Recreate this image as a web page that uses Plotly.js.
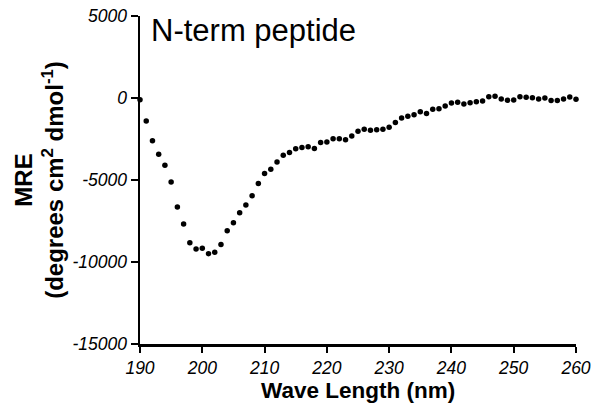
<!DOCTYPE html>
<html>
<head>
<meta charset="utf-8">
<script src="https://cdn.plot.ly/plotly-3.0.1.min.js"></script>
<style>html,body{margin:0;padding:0;background:#fff;}#chart{width:594px;height:406px;}</style>
</head>
<body>
<div id="chart"></div>
<script>
const wavelength = [190,191,192,193,194,195,196,197,198,199,200,201,202,203,204,205,206,207,208,209,210,211,212,213,214,215,216,217,218,219,220,221,222,223,224,225,226,227,228,229,230,231,232,233,234,235,236,237,238,239,240,241,242,243,244,245,246,247,248,249,250,251,252,253,254,255,256,257,258,259,260];
const mre = [-100,-1400,-2600,-3430,-4100,-5120,-6650,-7690,-8830,-9200,-9160,-9490,-9400,-8940,-8100,-7610,-7000,-6530,-5960,-5220,-4610,-4350,-3910,-3490,-3320,-3100,-3020,-2980,-3080,-2710,-2690,-2490,-2490,-2550,-2310,-2020,-1900,-1960,-1940,-1900,-1790,-1490,-1220,-1120,-1020,-840,-940,-690,-650,-490,-310,-260,-370,-290,-230,-180,80,100,-60,-140,-120,80,40,20,-60,0,-160,-160,-60,60,-80];
const xTicks = [190,200,210,220,230,240,250,260];
const yTicks = [-15000,-10000,-5000,0,5000];
const chartTitle = "N-term peptide";
const xTitle = "<b>Wave Length (nm)</b>";
const yTitle = "<b>MRE<br>(degrees cm<sup>2</sup> dmol<sup>-1</sup>)</b>";

const trace = {
  x: wavelength, y: mre, type: 'scatter', mode: 'markers',
  marker: {color: '#000', size: 5.5}, cliponaxis: false, hoverinfo: 'none'
};
const fam = 'Liberation Sans, Arial, sans-serif';
const tickFont = {family: fam, size: 17.5, color: '#000', style: 'italic'};
const layout = {
  width: 594, height: 406,
  margin: {l: 140, r: 18, t: 16, b: 62},
  paper_bgcolor: '#fff', plot_bgcolor: '#fff',
  showlegend: false,
  xaxis: {
    range: [190, 260], tickvals: xTicks, ticktext: xTicks.map(v => '<i>' + v + '</i>'),
    showgrid: false, zeroline: false, showline: true, linecolor: '#000', linewidth: 2.5,
    ticks: 'outside', ticklen: 6, tickwidth: 2, tickcolor: '#000',
    tickfont: tickFont, automargin: false
  },
  yaxis: {
    range: [-15000, 5000], tickvals: yTicks, ticktext: yTicks.map(v => '<i>' + v + '</i>'),
    showgrid: false, zeroline: false, showline: true, linecolor: '#000', linewidth: 2.5,
    ticks: 'outside', ticklen: 7, tickwidth: 2, tickcolor: '#000',
    tickfont: tickFont, automargin: false,
    title: {text: yTitle, font: {family: fam, size: 24, color: '#000'}, standoff: 2}
  },
  annotations: [{
    text: chartTitle, xref: 'paper', yref: 'paper', x: 0.02, y: 1.015,
    xanchor: 'left', yanchor: 'top', showarrow: false,
    font: {family: fam, size: 31, color: '#000'}
  }, {
    text: xTitle, xref: 'paper', yref: 'paper', x: 0.5, y: 0, yshift: -32,
    xanchor: 'center', yanchor: 'top', showarrow: false,
    font: {family: fam, size: 22.5, color: '#000'}
  }]
};
Plotly.newPlot('chart', [trace], layout, {staticPlot: true, displayModeBar: false});
</script>
</body>
</html>
